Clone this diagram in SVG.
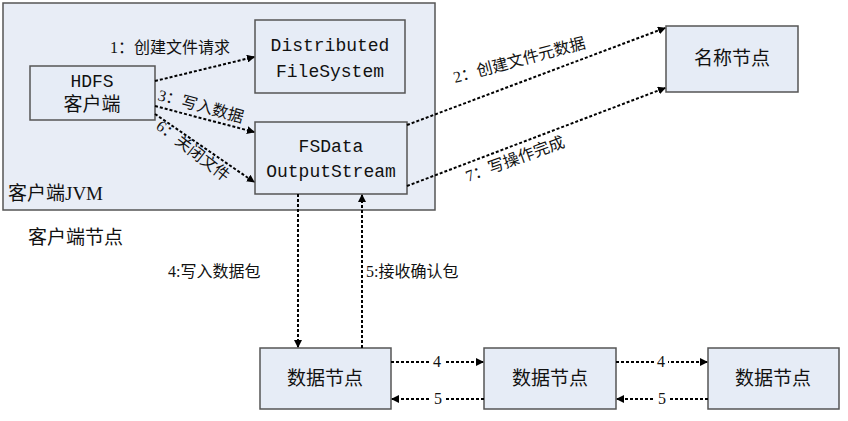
<svg xmlns="http://www.w3.org/2000/svg" width="848" height="421" viewBox="0 0 848 421">
<style>
.box{fill:#e6ecf6;stroke:#555;stroke-width:1.5}
.c{fill:none;stroke:#000;stroke-width:2;stroke-dasharray:3,2}
text{font-family:"Liberation Serif","Noto Sans CJK SC",serif;font-size:16px;fill:#111}
.m{font-family:"Liberation Mono","Noto Sans CJK SC",monospace;font-size:18px}
.l{font-size:16px}
.b{font-size:19px}
</style>
<defs><marker id="a" markerWidth="8" markerHeight="8" refX="7" refY="4" orient="auto" markerUnits="userSpaceOnUse"><path d="M0,0 L8,4 L0,8z" fill="#000"/></marker></defs>
<rect x="3" y="3" width="432" height="207" fill="#e8edf6" stroke="#555" stroke-width="1.5"/>
<text x="8" y="200" class="b">客户端JVM</text>
<text x="28" y="244" class="b">客户端节点</text>
<g id="hdfs"><rect class="box" x="30" y="66" width="125" height="54"/><text x="92" y="87" text-anchor="middle" class="m">HDFS</text><text x="92" y="111" text-anchor="middle" class="b">客户端</text></g>
<g id="dfs"><rect class="box" x="255" y="20" width="150" height="73"/><text x="330" y="51" text-anchor="middle" class="m">Distributed</text><text x="330" y="77" text-anchor="middle" class="m">FileSystem</text></g>
<g id="fsd"><rect class="box" x="255" y="122" width="152" height="72"/><text x="331" y="152" text-anchor="middle" class="m">FSData</text><text x="331" y="177" text-anchor="middle" class="m">OutputStream</text></g>
<g id="nn"><rect class="box" x="666" y="26" width="132" height="66"/><text x="732" y="65" text-anchor="middle" class="b">名称节点</text></g>
<g id="d1"><rect class="box" x="260" y="348" width="131" height="61"/><text x="325" y="385" text-anchor="middle" class="b">数据节点</text></g>
<g id="d2"><rect class="box" x="484" y="348" width="132" height="61"/><text x="550" y="385" text-anchor="middle" class="b">数据节点</text></g>
<g id="d3"><rect class="box" x="708" y="348" width="131" height="61"/><text x="773" y="385" text-anchor="middle" class="b">数据节点</text></g>
<g id="connectors">
<path class="c" d="M155,81 L254,57" marker-end="url(#a)"/>
<path class="c" d="M155,106 L254,132" marker-end="url(#a)"/>
<path class="c" d="M155,114 L254,182" marker-end="url(#a)"/>
<path class="c" d="M407,125 L665,28" marker-end="url(#a)"/>
<path class="c" d="M407,186 L665,88" marker-end="url(#a)"/>
<path class="c" d="M298,194 L298,347" marker-end="url(#a)"/>
<path class="c" d="M362,348 L362,195" marker-end="url(#a)"/>
<path class="c" d="M391,362 L483,362" marker-end="url(#a)"/>
<path class="c" d="M616,362 L707,362" marker-end="url(#a)"/>
<path class="c" d="M484,399 L392,399" marker-end="url(#a)"/>
<path class="c" d="M708,399 L617,399" marker-end="url(#a)"/>
<text x="110" y="53" class="l">1：创建文件请求</text>
<text x="157" y="100" class="l" transform="rotate(15 157 100)">3：写入数据</text>
<text x="155" y="128" class="l" transform="rotate(38 155 128)">6：关闭文件</text>
<text x="455" y="83" class="l" transform="rotate(-15 455 83)">2：创建文件元数据</text>
<text x="468" y="182" class="l" transform="rotate(-20 468 182)">7：写操作完成</text>
<text x="168" y="277" class="l">4:写入数据包</text>
<text x="366" y="277" class="l">5:接收确认包</text>
<g class="l" text-anchor="middle"><rect x="430" y="352" width="14" height="18" fill="#fff"/><text x="437" y="367">4</text><rect x="654" y="352" width="14" height="18" fill="#fff"/><text x="661" y="367">4</text><rect x="431" y="390" width="14" height="18" fill="#fff"/><text x="438" y="404">5</text><rect x="655" y="390" width="14" height="18" fill="#fff"/><text x="662" y="404">5</text></g>
</g>
</svg>
